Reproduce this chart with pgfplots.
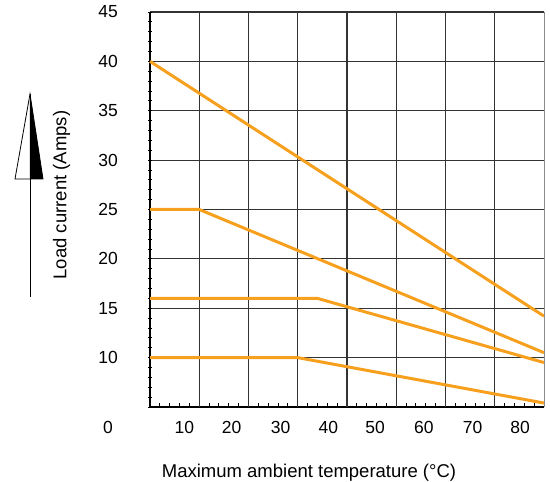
\documentclass[border=0pt]{standalone}
\usepackage{pgfplots}
\pgfplotsset{compat=1.18}
\usepackage{fontspec}
\setmainfont{Liberation Sans}
\definecolor{curve}{RGB}{246,160,30}
\begin{document}
\begin{tikzpicture}
\useasboundingbox (-150bp,-75bp) rectangle (400bp,407bp);
\begin{axis}[
  at={(0,0)}, anchor=south west,
  scale only axis, width=394bp, height=395bp,
  xmin=3, xmax=83, ymin=5, ymax=45,
  axis x line*=bottom, axis y line*=left,
  axis line style={-, black, line width=1.2bp},
  /pgf/number format/assume math mode=true,
  xtick={9.96,19.59,29.54,39.2,48.69,58.63,68.52,78.13},
  xticklabels={10,20,30,40,50,60,70,80},
  extra x ticks={13,23,33,43,53,63,73},
  extra x tick labels={},
  extra x tick style={grid=major, major tick length=0pt},
  minor xtick={3,5,...,83},
  xtick align=inside,
  ytick={10,15,...,45},
  yticklabels={10,15,20,25,30,35,40,45},
  ymajorgrids=true,
  minor ytick={5,6,...,45},
  ytick align=center,
  major tick length=0pt,
  minor tick length=4bp,
  minor tick style={line width=0.9bp, black},
  grid style={line width=1.2bp, draw=black!80},
  tick label style={font=\fontsize{17.5bp}{20bp}\selectfont, inner sep=0pt},
  xticklabel style={anchor=north, yshift=-14bp},
  yticklabel style={anchor=east, xshift=-32bp},
  clip=false,
]
\addplot[curve, line width=3bp] coordinates {(3,40) (83,14.2)};
\addplot[curve, line width=3bp] coordinates {(3,25) (13,25) (83,10.5)};
\addplot[curve, line width=3bp] coordinates {(3,16) (37,16) (83,9.5)};
\addplot[curve, line width=3bp] coordinates {(3,10) (33,10) (83,5.4)};
\end{axis}
% right border (light)
\draw[black!45, line width=1bp] (394bp,0) -- (394bp,395bp);
% corner zero
\node[font=\fontsize{17.5bp}{20bp}\selectfont, inner sep=0pt] at (-42bp,-20bp) {0};
% axis titles
\node[font=\fontsize{18.5bp}{22bp}\selectfont, inner sep=0pt, anchor=base] at (159bp,-70.3bp) {Maximum ambient temperature (°C)};
\node[font=\fontsize{18.5bp}{22bp}\selectfont, inner sep=0pt, rotate=90] at (-88.3bp,212bp) {Load current (Amps)};
% arrow
\draw[black, line width=0.8bp] (-120bp,110bp) -- (-120bp,313bp);
\fill[black] (-120bp,313bp) -- (-120bp,228bp) -- (-107bp,228bp) -- cycle;
\draw[black, line width=0.8bp, line join=miter] (-120bp,313bp) -- (-135bp,228bp) -- (-107bp,228bp) -- cycle;
\end{tikzpicture}
\end{document}
